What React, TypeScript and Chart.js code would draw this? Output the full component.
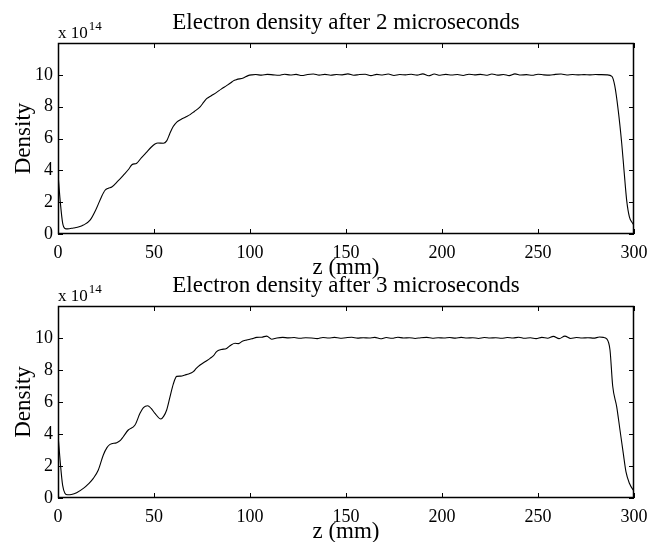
import React, { useEffect, useRef } from "react";
import { Chart, registerables } from "chart.js";

Chart.register(...registerables);

// ---------- data ----------
const zTicks = [0, 50, 100, 150, 200, 250, 300];
const densityTicks = [0, 2, 4, 6, 8, 10];
const densityMax = 12;
const exponentBase = "x 10";
const exponentPower = "14";
const yLabel = "Density";
const xLabel = "z (mm)";
const title2us = "Electron density after 2 microseconds";
const title3us = "Electron density after 3 microseconds";

const z2us = [
  0, 1.2, 2.4, 3.6, 5, 8, 11, 13.2, 16.7, 20, 22.5, 24.5, 26.2, 28, 31, 34, 37, 38.5, 41, 43.5,
  46.2, 48.5, 50.5, 52, 54.9, 56.6, 58.2, 60, 62, 64, 66.5, 68.8, 71, 74, 76, 77.4, 80, 82.6, 85,
  87.8, 90, 91.3, 93, 96.5, 99, 101,
  103, 106, 109, 112, 115, 118, 121, 124, 127, 130, 133, 136, 139, 142, 145, 148, 151, 154, 157,
  160, 163, 166, 169, 172, 175, 178, 181, 184, 187, 190, 193, 196, 199, 202, 205, 208, 211, 214,
  217, 220, 223, 226, 229, 232, 235, 238, 241, 244, 247, 250, 253, 256, 259, 262, 265, 268, 271,
  274, 277, 280, 283, 286,
  288.5, 290, 291.8, 293.6, 294.8, 296.2, 297.6, 299, 300,
];
const density2us = [
  3.8, 2.0, 0.7, 0.35, 0.32, 0.38, 0.45, 0.56, 0.87, 1.6, 2.3, 2.75, 2.88, 2.95, 3.3, 3.69, 4.1,
  4.35, 4.45, 4.8, 5.15, 5.45, 5.65, 5.72, 5.7, 5.85, 6.3, 6.75, 7.05, 7.2, 7.35, 7.5, 7.7, 7.98,
  8.3, 8.5, 8.7, 8.9, 9.1, 9.32, 9.5, 9.62, 9.7, 9.8, 9.95, 10.0,
  10.02, 9.98, 10.03, 10.0, 9.97, 10.04, 9.99, 10.03, 9.96, 10.02,
  10.05, 9.98, 10.03, 9.97, 10.02, 10.0, 10.06, 9.97, 10.02, 10.04,
  9.95, 10.03, 9.99, 10.05, 9.96, 10.02, 10.0, 10.04, 9.98, 10.06,
  9.94, 10.05, 9.97, 10.03, 9.99, 10.02, 9.96, 10.04, 10.0, 10.03,
  9.97, 10.05, 9.98, 10.02, 9.95, 10.06, 9.99, 10.01, 9.97, 10.04,
  10.0, 9.98, 10.03, 10.05, 9.99, 10.02, 10.0, 10.01, 10.0, 10.02,
  10.01, 10.0,
  9.9, 9.3, 7.75, 5.7, 4.0, 2.1, 1.08, 0.72, 0.56,
];

const z3us = [
  0, 1.2, 2.4, 3.6, 5, 7, 9.7, 13.2, 16, 18.4, 21, 23.6, 25.5, 27.1, 30.6, 32.5, 34, 36.6, 40.1,
  42.7, 44.5, 46.7, 48.5, 50.5, 53.6, 55, 56.6, 58.3, 60, 61.8, 64, 66.1, 68, 70.5, 72, 74, 77,
  79.2, 81, 82.6, 85, 87.8, 90, 92.2, 94, 96, 98.3, 101, 103.5, 106, 108.7, 111.3,
  114, 117, 120, 123, 126, 129, 132, 135, 138, 141, 144, 147, 150, 153, 156, 159, 162, 165, 168,
  171, 174, 177, 180, 183, 186, 189, 192, 195, 198, 201, 204, 207, 210, 213, 216, 219, 222, 225,
  228, 231, 234, 237, 240, 243, 246, 249, 252, 255, 258, 261, 264, 267, 270, 273, 276, 279, 282,
  284, 285.8, 287.5, 288.9, 291, 292.7, 294.4, 295.8, 297.6, 299.6, 300,
];
const density3us = [
  3.95, 2.2, 0.8, 0.3, 0.2, 0.22, 0.33, 0.6, 0.9, 1.23, 1.75, 2.69, 3.15, 3.35, 3.46, 3.6, 3.83,
  4.25, 4.56, 5.29, 5.65, 5.77, 5.6, 5.29, 4.94, 5.1, 5.5, 6.3, 7.1, 7.6, 7.62, 7.69, 7.75, 7.9,
  8.1, 8.31, 8.55, 8.73, 8.9, 9.15, 9.28, 9.35, 9.55, 9.67, 9.65, 9.8, 9.875, 9.95, 10.04, 10.05,
  10.12, 9.92,
  10.0, 10.04, 10.01, 10.03, 9.98, 10.02, 10.0, 9.96, 10.03, 10.0,
  10.04, 9.98, 10.02, 10.05, 9.99, 10.02, 10.0, 10.04, 9.95, 10.03,
  9.98, 10.05, 10.0, 10.02, 9.97, 10.02, 10.04, 9.98, 10.02, 10.0,
  10.03, 9.99, 10.04, 10.0, 10.02, 9.97, 10.03, 10.0, 10.02, 9.98,
  10.03, 10.0, 10.05, 9.98, 10.02, 9.96, 10.04, 9.98, 10.1, 9.96,
  10.12, 9.97, 10.03, 10.0, 10.02, 9.99, 10.06,
  10.04, 9.95, 9.25, 7.0, 5.7, 4.25, 2.8, 1.65, 0.92, 0.5, 0.45,
];

// ---------- drawing ----------
const FONT = "'Liberation Serif', 'Times New Roman', serif";

const framePlugin = {
  id: "frameText",
  afterDraw(chart: any, _args: any, opts: any) {
    const { ctx, chartArea } = chart;
    const { left, right, top, bottom } = chartArea;
    const xs = chart.scales.x;
    const ys = chart.scales.y;
    ctx.save();
    ctx.strokeStyle = "#000";
    ctx.lineWidth = 1.5;
    ctx.strokeRect(left + 0.5, top + 0.5, right - left - 1, bottom - top - 1);
    // inward ticks
    ctx.lineWidth = 1;
    ctx.beginPath();
    const tl = 5;
    xs.ticks.forEach((t: any) => {
      const p = Math.round(xs.getPixelForValue(t.value)) + 0.5;
      ctx.moveTo(p, bottom);
      ctx.lineTo(p, bottom - tl);
      ctx.moveTo(p, top);
      ctx.lineTo(p, top + tl);
    });
    ys.ticks.forEach((t: any) => {
      const p = Math.round(ys.getPixelForValue(t.value)) + 0.5;
      ctx.moveTo(left, p);
      ctx.lineTo(left + tl, p);
      ctx.moveTo(right, p);
      ctx.lineTo(right - tl, p);
    });
    ctx.stroke();

    ctx.fillStyle = "#000";
    const cx = (left + right) / 2;
    const cy = (top + bottom) / 2;
    // title
    ctx.font = `23px ${FONT}`;
    ctx.textAlign = "center";
    ctx.textBaseline = "alphabetic";
    ctx.fillText(opts.title, cx, top - 14);
    // exponent
    ctx.textAlign = "left";
    ctx.font = `17px ${FONT}`;
    ctx.fillText(exponentBase, left, top - 5);
    const w = ctx.measureText(exponentBase).width;
    ctx.font = `13px ${FONT}`;
    ctx.fillText(exponentPower, left + w + 1, top - 13);
    // x label
    ctx.font = `23px ${FONT}`;
    ctx.textAlign = "center";
    ctx.fillText(xLabel, cx, bottom + 40);
    // y label
    ctx.save();
    ctx.translate(30, cy);
    ctx.rotate(-Math.PI / 2);
    ctx.fillText(yLabel, 0, 0);
    ctx.restore();
    ctx.restore();
  },
};

function makeConfig(z: number[], d: number[], title: string, padTop: number, xHeight: number) {
  return {
    type: "line" as const,
    data: {
      datasets: [
        {
          data: z.map((v, i) => ({ x: v, y: d[i] })),
          borderColor: "#000",
          borderWidth: 1.1,
          pointRadius: 0,
          fill: false,
          cubicInterpolationMode: "monotone" as const,
        },
      ],
    },
    options: {
      responsive: false,
      animation: false as const,
      layout: { padding: { left: 0, right: 31, top: padTop, bottom: 0 } },
      plugins: {
        legend: { display: false },
        tooltip: { enabled: false },
        title: { display: false },
        frameText: { title },
      },
      scales: {
        x: {
          type: "linear" as const,
          min: zTicks[0],
          max: zTicks[zTicks.length - 1],
          afterBuildTicks: (s: any) => {
            s.ticks = zTicks.map((v) => ({ value: v }));
          },
          afterFit: (s: any) => {
            s.height = xHeight;
          },
          grid: { display: false, drawTicks: false },
          border: { display: false },
          ticks: {
            font: { family: FONT, size: 18 },
            color: "#000",
            padding: 8,
            maxRotation: 0,
            autoSkip: false,
          },
        },
        y: {
          min: 0,
          max: densityMax,
          afterBuildTicks: (s: any) => {
            s.ticks = densityTicks.map((v) => ({ value: v }));
          },
          afterFit: (s: any) => {
            s.width = 58;
          },
          grid: { display: false, drawTicks: false },
          border: { display: false },
          ticks: {
            font: { family: FONT, size: 18 },
            color: "#000",
            padding: 5,
            autoSkip: false,
          },
        },
      },
    },
    plugins: [framePlugin],
  };
}

export default function App() {
  const ref1 = useRef<HTMLCanvasElement>(null);
  const ref2 = useRef<HTMLCanvasElement>(null);

  useEffect(() => {
    const c1 = new Chart(ref1.current as HTMLCanvasElement, makeConfig(z2us, density2us, title2us, 43, 56) as any);
    const c2 = new Chart(ref2.current as HTMLCanvasElement, makeConfig(z3us, density3us, title3us, 35, 44) as any);
    return () => {
      c1.destroy();
      c2.destroy();
    };
  }, []);

  return (
    <div style={{ position: "absolute", left: 0, top: 0, width: 665, height: 542, background: "#fff" }}>
      <canvas
        ref={ref1}
        width={665}
        height={290}
        style={{ position: "absolute", left: 0, top: 0, width: 665, height: 290 }}
      />
      <canvas
        ref={ref2}
        width={665}
        height={271}
        style={{ position: "absolute", left: 0, top: 271, width: 665, height: 271 }}
      />
    </div>
  );
}
